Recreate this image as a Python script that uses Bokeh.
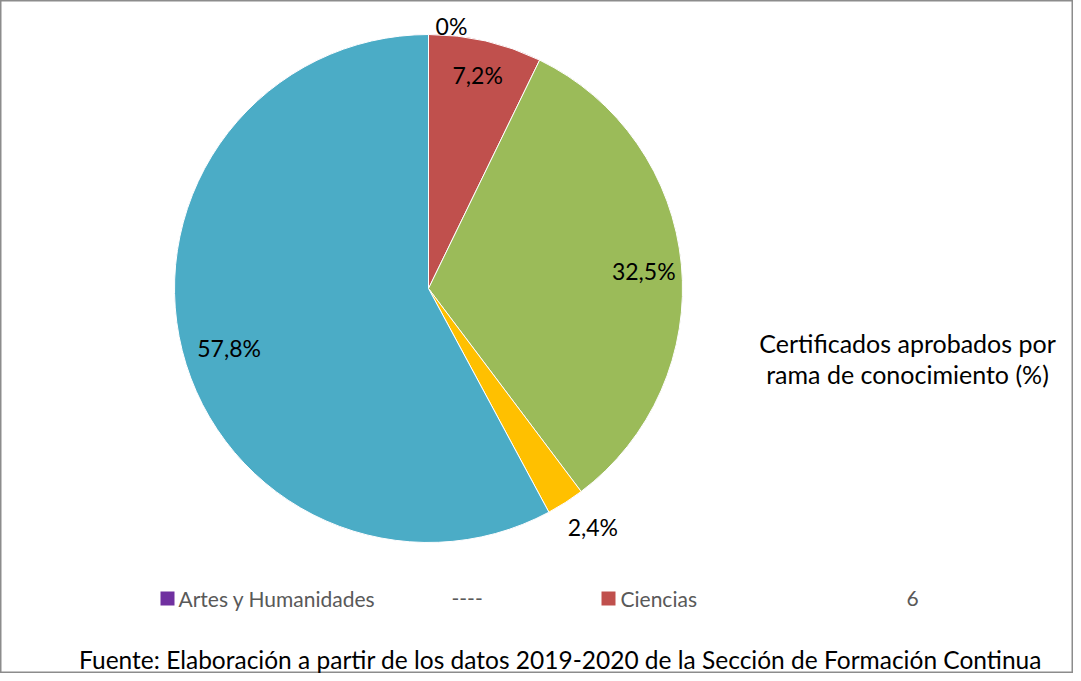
import numpy as np
from bokeh.plotting import figure
from bokeh.models import Range1d, ColumnDataSource
from bokeh.core.properties import value
from bokeh.embed import file_html
from bokeh.resources import INLINE

# ---- data ----
categories = ["Artes y Humanidades", "Ciencias", "Ciencias de la Salud", "Ciencias Sociales y Jurídicas", "Ingeniería y Arquitectura"]
percent = [0.0, 7.2, 32.5, 2.4, 57.8]
labels = ["0%", "7,2%", "32,5%", "2,4%", "57,8%"]
colors = ["#7030A0", "#C0504D", "#9BBB59", "#FFC000", "#4BACC6"]
legend_items = ["Artes y Humanidades", "----", "Ciencias", "6"]
title_lines = ["Certificados aprobados por", "rama de conocimiento (%)"]
footer = "Fuente: Elaboración a partir de los datos 2019-2020 de la Sección de Formación Continua"

W, H = 1073, 673
FONT = "Lato"

p = figure(width=W, height=H, x_range=Range1d(0, W), y_range=Range1d(0, H),
           output_backend="svg", toolbar_location=None, min_border=0)
p.axis.visible = False
p.grid.visible = False
p.outline_line_color = "#8c8c8c"
p.outline_line_width = 2
p.background_fill_color = "white"
p.border_fill_color = "white"

# pie geometry (pixel coords, y up)
cx, cy, R = 428, 385, 254
total = sum(percent)
fr = np.array(percent) / total
ends = np.pi / 2 - 2 * np.pi * np.cumsum(fr)
starts = np.concatenate([[np.pi / 2], ends[:-1]])

src = ColumnDataSource(dict(start=ends, end=starts, color=colors))
p.wedge(x=cx, y=cy, radius=R, start_angle="start", end_angle="end",
        fill_color="color", line_color="white", line_width=1, source=src)

# data labels
mids = (starts + ends) / 2
lab_r = [264, 219, 216, 290, 208]
lab_da = [np.radians(-5.0), 0.0, np.radians(-0.8), np.radians(1.9), np.radians(2.4)]
lx = [cx + r * np.cos(m + d) for r, m, d in zip(lab_r, mids, lab_da)]
ly = [cy + r * np.sin(m + d) for r, m, d in zip(lab_r, mids, lab_da)]
p.text(x=lx, y=ly, text=labels, text_align="center", text_baseline="middle",
       text_font=value(FONT), text_font_size="23px", text_color="black")

# side title
p.text(x=[907, 907], y=[H - 342, H - 373], text=title_lines, text_align="center",
       text_baseline="middle", text_font=value(FONT), text_font_size="25px", text_color="black")

# legend row
ly0 = H - 598
p.rect(x=[167, 608], y=[ly0, ly0], width=14, height=14, fill_color=[colors[0], colors[1]],
       line_color=None)
p.text(x=[178, 451, 620, 906], y=[ly0] * 4, text=legend_items, text_align="left",
       text_baseline="middle", text_font=value(FONT), text_font_size="21px", text_color="#595959")

# footer
p.text(x=[560], y=[H - 659], text=[footer], text_align="center", text_baseline="middle",
       text_font=value(FONT), text_font_size="24.5px", text_color="black")

open("out.html", "w").write(file_html(p, INLINE))
